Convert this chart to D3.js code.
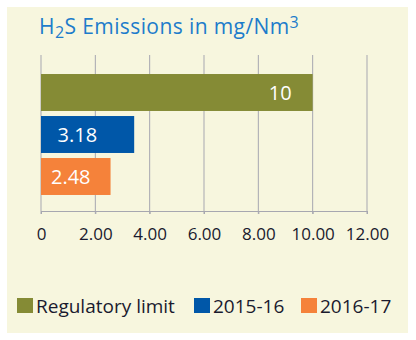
<!DOCTYPE html>
<html><head><meta charset="utf-8">
<script src="https://cdn.jsdelivr.net/npm/d3@7"></script>
<style>html,body{margin:0;padding:0;background:#fff}</style>
</head><body>
<script>
const categories = ["Regulatory limit", "2015-16", "2016-17"];
// bar lengths as drawn in the picture (the source bars are not exactly to scale)
const barValues = [10, 3.43, 2.56];
const valueLabels = ["10", "3.18", "2.48"];
const colors = ["#858b35", "#0057a8", "#f5823a"];
const tickValues = [0, 2, 4, 6, 8, 10, 12];
const tickLabels = ["0", "2.00", "4.00", "6.00", "8.00", "10.00", "12.00"];

const W = 416, H = 340;
const svg = d3.select("body").append("svg").attr("width", W).attr("height", H);
svg.append("rect").attr("x", 7).attr("y", 7).attr("width", 401).attr("height", 326).attr("fill", "#f7f6de");

const font = "'Open Sans', sans-serif";
// title
const t = svg.append("text").attr("x", 39).attr("y", 34).attr("fill", "#1d7ccb")
  .attr("font-family", font).attr("font-size", 21).attr("letter-spacing", 0.4);
t.append("tspan").text("H");
t.append("tspan").text("2").attr("font-size", 16).attr("dy", 4);
t.append("tspan").text("S Emissions in mg/Nm").attr("dy", -4);
t.append("tspan").text("3").attr("font-size", 16).attr("dy", -6);

const x = d3.scaleLinear().domain([0, 12]).range([41, 367]);
const y = d3.scaleBand().domain(categories).range([71.5, 197.5]).paddingInner(0.12).paddingOuter(0.06);

// gridlines
svg.append("g").selectAll("line").data(tickValues).join("line")
  .attr("x1", d => x(d)).attr("x2", d => x(d)).attr("y1", 55).attr("y2", 214)
  .attr("stroke", "#a7a7b0").attr("stroke-width", 1);

// axis
const ax = svg.append("g").attr("transform", "translate(0,211)")
  .call(d3.axisBottom(x).tickValues(tickValues).tickFormat((d, i) => tickLabels[i]).tickSize(3).tickPadding(14));
ax.select(".domain").attr("stroke", "#a7a7b0");
ax.selectAll(".tick line").attr("stroke", "#a7a7b0");
ax.selectAll(".tick text").attr("font-family", font).attr("font-size", 17).attr("fill", "#1a1a2e");

// bars
svg.append("g").selectAll("rect").data(barValues).join("rect")
  .attr("x", x(0)).attr("y", (d, i) => y(categories[i]))
  .attr("width", d => x(d) - x(0)).attr("height", y.bandwidth())
  .attr("fill", (d, i) => colors[i]);

const labelInset = [21, 37, 20];
svg.append("g").selectAll("text").data(barValues).join("text")
  .attr("x", (d, i) => x(d) - labelInset[i])
  .attr("y", (d, i) => y(categories[i]) + y.bandwidth() / 2 + 7)
  .attr("text-anchor", "end").attr("fill", "#fff")
  .attr("font-family", font).attr("font-size", 20)
  .text((d, i) => valueLabels[i]);

// legend
const legX = [17, 194, 301];
const lg = svg.append("g").selectAll("g").data(categories).join("g")
  .attr("transform", (d, i) => `translate(${legX[i]},298)`);
lg.append("rect").attr("width", 16).attr("height", 15).attr("fill", (d, i) => colors[i]);
lg.append("text").attr("x", 19).attr("y", 15).attr("fill", "#1a1a2e")
  .attr("font-family", font).attr("font-size", 19).text(d => d);
</script>
</body></html>
